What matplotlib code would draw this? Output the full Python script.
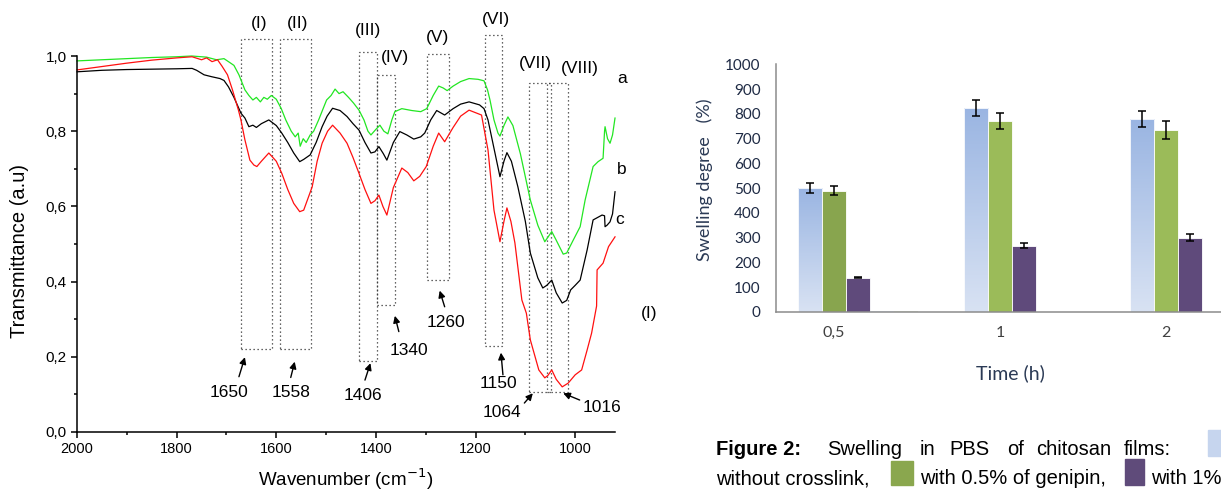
# Figura: espectros FTIR (izquierda) + hinchamiento en PBS (derecha)
import numpy as np
import matplotlib.pyplot as plt
from matplotlib.patches import Rectangle
from matplotlib.colors import LinearSegmentedColormap

# PASO 01. DATOS FTIR
wn_a = [2000, 1950, 1900, 1850, 1800, 1770, 1740, 1720, 1705, 1696, 1685, 1675, 1663, 1655,
        1647, 1640, 1632, 1625, 1618, 1610, 1600, 1590, 1581, 1570, 1562, 1556, 1552, 1546,
        1540, 1532, 1525, 1515, 1506, 1499, 1490, 1482, 1474, 1466, 1455, 1445, 1434, 1424,
        1416, 1410, 1400, 1392, 1384, 1376, 1368, 1362, 1348, 1328, 1310, 1298, 1285, 1274,
        1265, 1257, 1245, 1230, 1213, 1195, 1183, 1176, 1171, 1163, 1155, 1151, 1143, 1135,
        1125, 1110, 1090, 1075, 1061, 1047, 1038, 1024, 1017, 1004, 990, 980, 964, 954, 944,
        941, 940, 935, 930, 925, 920]
t_a = [0.987, 0.990, 0.993, 0.996, 0.998, 1.000, 0.997, 0.990, 0.993, 0.985, 0.975, 0.950,
       0.910, 0.895, 0.883, 0.890, 0.878, 0.890, 0.885, 0.895, 0.885, 0.860, 0.830, 0.800,
       0.785, 0.795, 0.760, 0.780, 0.770, 0.790, 0.800, 0.830, 0.860, 0.883, 0.895, 0.912,
       0.900, 0.905, 0.890, 0.875, 0.856, 0.830, 0.800, 0.790, 0.805, 0.816, 0.800, 0.793,
       0.830, 0.852, 0.860, 0.855, 0.852, 0.860, 0.895, 0.920, 0.915, 0.908, 0.920, 0.932,
       0.940, 0.938, 0.934, 0.910, 0.883, 0.830, 0.795, 0.787, 0.815, 0.838, 0.815, 0.740,
       0.617, 0.550, 0.506, 0.533, 0.510, 0.473, 0.476, 0.510, 0.546, 0.617, 0.706, 0.719,
       0.728, 0.800, 0.812, 0.780, 0.768, 0.790, 0.835]

wn_b = [2000, 1950, 1900, 1850, 1800, 1769, 1760, 1745, 1730, 1713, 1705, 1696, 1685, 1671,
        1663, 1655, 1647, 1640, 1630, 1615, 1600, 1589, 1577, 1565, 1553, 1545, 1532, 1520,
        1508, 1498, 1487, 1472, 1458, 1446, 1434, 1422, 1410, 1402, 1394, 1385, 1378, 1365,
        1352, 1338, 1324, 1310, 1302, 1290, 1278, 1262, 1245, 1230, 1213, 1192, 1183, 1175,
        1161, 1151, 1143, 1137, 1128, 1115, 1100, 1090, 1075, 1065, 1057, 1047, 1038, 1026,
        1017, 1009, 1000, 990, 976, 964, 946, 941, 940, 936, 930, 925, 920]
t_b = [0.958, 0.962, 0.964, 0.965, 0.966, 0.967, 0.962, 0.950, 0.945, 0.940, 0.935, 0.918,
       0.890, 0.848, 0.835, 0.812, 0.816, 0.810, 0.820, 0.830, 0.815, 0.795, 0.770, 0.742,
       0.719, 0.725, 0.737, 0.770, 0.812, 0.840, 0.861, 0.855, 0.839, 0.820, 0.803, 0.770,
       0.742, 0.745, 0.759, 0.740, 0.723, 0.770, 0.799, 0.790, 0.779, 0.785, 0.795, 0.830,
       0.855, 0.843, 0.860, 0.872, 0.878, 0.870, 0.860, 0.830, 0.742, 0.679, 0.720, 0.743,
       0.720, 0.652, 0.560, 0.476, 0.410, 0.383, 0.390, 0.404, 0.370, 0.343, 0.350, 0.378,
       0.390, 0.404, 0.484, 0.564, 0.577, 0.575, 0.546, 0.550, 0.559, 0.580, 0.639]

wn_c = [2000, 1950, 1900, 1850, 1800, 1769, 1750, 1740, 1729, 1718, 1709, 1698, 1688, 1676,
        1671, 1663, 1653, 1645, 1639, 1630, 1615, 1600, 1589, 1577, 1565, 1553, 1545, 1528,
        1518, 1508, 1497, 1487, 1472, 1458, 1446, 1434, 1422, 1410, 1402, 1394, 1386, 1378,
        1365, 1348, 1336, 1324, 1312, 1299, 1285, 1274, 1262, 1245, 1230, 1213, 1188, 1175,
        1163, 1151, 1143, 1137, 1129, 1121, 1107, 1098, 1090, 1073, 1061, 1055, 1047, 1038,
        1026, 1014, 1000, 987, 976, 967, 957, 956, 944, 933, 920]
t_c = [0.963, 0.972, 0.981, 0.989, 0.995, 0.998, 0.990, 0.995, 0.985, 0.990, 0.973, 0.950,
       0.910, 0.856, 0.830, 0.777, 0.723, 0.710, 0.706, 0.720, 0.742, 0.720, 0.688, 0.645,
       0.608, 0.586, 0.590, 0.652, 0.720, 0.768, 0.800, 0.816, 0.795, 0.768, 0.730, 0.688,
       0.645, 0.608, 0.615, 0.630, 0.600, 0.577, 0.650, 0.702, 0.690, 0.668, 0.680, 0.706,
       0.760, 0.795, 0.772, 0.810, 0.840, 0.856, 0.843, 0.750, 0.590, 0.506, 0.560, 0.596,
       0.560, 0.503, 0.351, 0.316, 0.245, 0.165, 0.144, 0.150, 0.165, 0.140, 0.120, 0.130,
       0.152, 0.165, 0.218, 0.263, 0.335, 0.431, 0.449, 0.493, 0.519]

# bandas (cajas punteadas): límites en número de onda y transmitancia
bandas = ['(I)', '(II)', '(III)', '(IV)', '(V)', '(VI)', '(VII)', '(VIII)']
banda_wn1 = [1670, 1593, 1433, 1397, 1298, 1181, 1093, 1057]
banda_wn2 = [1608, 1530, 1397, 1362, 1253, 1146, 1049, 1015]
banda_t1 = [0.221, 0.221, 0.189, 0.338, 0.404, 0.230, 0.106, 0.106]
banda_t2 = [1.044, 1.044, 1.010, 0.949, 1.005, 1.056, 0.929, 0.929]
etiq_wn = [1635, 1558, 1416, 1362, 1276, 1159, 1080, 991]
etiq_t = [1.087, 1.087, 1.069, 0.997, 1.049, 1.096, 0.980, 0.967]

# picos señalados con flechas
picos = ['1650', '1558', '1406', '1340', '1260', '1150', '1064', '1016']
pico_txt_wn = [1694, 1571, 1426, 1333, 1259, 1155, 1147, 946]
pico_txt_t = [0.104, 0.106, 0.096, 0.216, 0.291, 0.128, 0.051, 0.064]
flecha_ini_wn = [1675, 1571, 1422, 1354, 1262, 1145, 1102, 991]
flecha_ini_t = [0.147, 0.145, 0.138, 0.267, 0.333, 0.152, 0.077, 0.085]
flecha_fin_wn = [1663, 1563, 1411, 1362, 1272, 1149, 1085, 1024]
flecha_fin_t = [0.199, 0.187, 0.183, 0.309, 0.376, 0.211, 0.103, 0.103]

y_ticks = [0.0, 0.2, 0.4, 0.6, 0.8, 1.0]
y_ticklabels = ['0,0', '0,2', '0,4', '0,6', '0,8', '1,0']
x_ticks = [2000, 1800, 1600, 1400, 1200, 1000]

# PASO 02. DATOS DE HINCHAMIENTO
tiempos = ['0,5', '1', '2']
sin_reticulante = [502, 825, 779]
err_sin = [20, 32, 32]
genipina_05 = [490, 772, 735]
err_05 = [17, 32, 37]
genipina_1 = [139, 268, 300]
err_1 = [3, 10, 14]
resto_a = [5, 0, 0]
resto_b = [5, 0, 0]

# PASO 03. FIGURA
fig = plt.figure(figsize=(12.21, 4.9), dpi=100)
fuente = 'Liberation Sans'

ax = fig.add_axes([0.0631, 0.1184, 0.4406, 0.7673])
ax.plot(wn_a, t_a, color='#22e622', lw=0.9, clip_on=False)
ax.plot(wn_b, t_b, color='black', lw=0.9, clip_on=False)
ax.plot(wn_c, t_c, color='#ff1010', lw=0.9, clip_on=False)
ax.set_xlim(2000, 920)
ax.set_ylim(0, 1.0)
for s in ['top', 'right']:
    ax.spines[s].set_visible(False)
for s in ['left', 'bottom']:
    ax.spines[s].set_linewidth(1.1)
ax.set_xticks(x_ticks)
ax.set_xticklabels([str(v) for v in x_ticks], fontsize=10.5, family=fuente)
ax.set_xticks(np.arange(1900, 920, -200), minor=True)
ax.set_yticks(y_ticks)
ax.set_yticklabels(y_ticklabels, fontsize=11, family=fuente)
ax.set_yticks([0.1, 0.3, 0.5, 0.7, 0.9], minor=True)
ax.tick_params(which='major', direction='out', length=4, width=1.1)
ax.tick_params(which='minor', direction='out', length=2.5, width=1.1)
ax.set_xlabel('Wavenumber (cm$^{-1}$)', fontsize=13.5, family=fuente)
ax.xaxis.set_label_coords(0.5, -0.125)
ax.xaxis.label.set_va('center')
ax.set_ylabel('Transmittance (a.u)', fontsize=14.5, family=fuente)
ax.yaxis.set_label_coords(-0.107, 0.481)
ax.yaxis.label.set_va('center')

for i in range(len(bandas)):
    ax.add_patch(Rectangle((banda_wn1[i], banda_t1[i]), banda_wn2[i] - banda_wn1[i],
                           banda_t2[i] - banda_t1[i], fill=False, ls=(0, (1, 2.2)),
                           lw=0.9, ec='#333333', clip_on=False))
    ax.text(etiq_wn[i], etiq_t[i], bandas[i], ha='center', va='center',
            fontsize=12.5, family=fuente)

for i in range(len(picos)):
    ax.text(pico_txt_wn[i], pico_txt_t[i], picos[i], ha='center', va='center',
            fontsize=12.5, family=fuente)
    ax.annotate('', xy=(flecha_fin_wn[i], flecha_fin_t[i]),
                xytext=(flecha_ini_wn[i], flecha_ini_t[i]),
                arrowprops=dict(arrowstyle='-|>', color='black', lw=1.0,
                                mutation_scale=10, shrinkA=0, shrinkB=0))

ax.text(906, 0.939, 'a', fontsize=12.5, family=fuente, va='center', ha='center')
ax.text(906, 0.697, 'b', fontsize=12.5, family=fuente, va='center', ha='center')
ax.text(911, 0.564, 'c', fontsize=12.5, family=fuente, va='center', ha='center')
fig.text(0.532, 0.361, '(I)', fontsize=12.5, family=fuente, va='center', ha='center')

# PASO 04. GRÁFICO DE BARRAS
bx = fig.add_axes([0.6355, 0.3633, 0.401, 0.5055])
x = np.arange(len(tiempos))
w = 0.145
b1 = bx.bar(x - w, sin_reticulante, w, color='none', edgecolor='white', lw=0.6, zorder=2)
b2 = bx.bar(x, genipina_05, w, color=['#88a54e', '#9bbb59', '#9bbb59'],
            edgecolor='white', lw=0.6, zorder=2)
b3 = bx.bar(x + w, genipina_1, w, color='#5f4a7b', edgecolor='white', lw=0.6, zorder=2)
bx.bar(x + 2 * w, resto_a, w, color='#dfe6f4', zorder=2)
bx.bar(x + 3 * w, resto_b, w, color='#e4ebd6', zorder=2)

# degradado azul de las barras sin reticulante (oscuro arriba, claro abajo)
grad = np.linspace(0, 1, 100).reshape(-1, 1)
cmap_azul = LinearSegmentedColormap.from_list('azul', ['#d8e2f3', '#9ab5e2'])
for p in b1:
    x0, y0 = p.get_x(), p.get_y()
    im = bx.imshow(grad, extent=[x0, x0 + p.get_width(), y0, y0 + p.get_height()],
                   cmap=cmap_azul, aspect='auto', origin='lower', zorder=1.9)
    im.set_clip_path(p)

for barras, err in [(b1, err_sin), (b2, err_05), (b3, err_1)]:
    cx = [p.get_x() + p.get_width() / 2 for p in barras]
    cy = [p.get_height() for p in barras]
    bx.errorbar(cx, cy, yerr=err, fmt='none', ecolor='black', elinewidth=1.1,
                capsize=3.2, capthick=1.1, zorder=3)

bx.set_xlim(-0.349, 2.6)
bx.set_ylim(0, 1000)
bx.set_yticks(np.arange(0, 1001, 100))
bx.set_yticklabels([str(v) for v in range(0, 1001, 100)], fontsize=11, family='Lato',
                   color='#1e2a44')
bx.set_xticks(x)
bx.set_xticklabels(tiempos, fontsize=11.5, family='Lato', color='#404040')
bx.tick_params(axis='both', length=0)
bx.tick_params(axis='y', pad=11)
bx.tick_params(axis='x', pad=10)
for s in ['top', 'right']:
    bx.spines[s].set_visible(False)
bx.spines['left'].set_color('#8c8c8c')
bx.spines['bottom'].set_color('#8c8c8c')
bx.spines['left'].set_linewidth(1.1)
bx.spines['bottom'].set_linewidth(1.1)
bx.set_ylabel('Swelling degree   (%)', fontsize=13, family='Lato', color='#2b3a55')
bx.yaxis.set_label_coords(-0.145, 0.535)
bx.yaxis.label.set_va('center')
bx.set_xlabel('Time (h)', fontsize=14, family='Lato', color='#2b3a55')
bx.xaxis.set_label_coords(0.478, -0.247)
bx.xaxis.label.set_va('center')

# PASO 05. PIE DE FIGURA
W, H = 1221.0, 490.0
linea1 = 1 - 455 / H
linea2 = 1 - 484 / H
tam = 14.5
fig.text(716 / W, linea1, 'Figure 2:', fontsize=tam, family=fuente, weight='bold')
for pal, px in [('Swelling', 827), ('in', 920), ('PBS', 949), ('of', 1007),
                ('chitosan', 1036), ('films:', 1124)]:
    fig.text(px / W, linea1, pal, fontsize=tam, family=fuente)
fig.text(716 / W, linea2, 'without crosslink,', fontsize=tam, family=fuente)
fig.text(919.6 / W, linea2, 'with 0.5% of genipin,', fontsize=tam, family=fuente)
fig.text(1151 / W, linea2, 'with 1% of genipin.', fontsize=tam, family=fuente)
fig.patches.append(Rectangle((1208 / W, 1 - 456 / H), 30 / W, 26 / H, color='#c6d5ee',
                             transform=fig.transFigure, figure=fig))
fig.patches.append(Rectangle((891 / W, 1 - 485 / H), 22 / W, 24 / H, color='#8aa74e',
                             transform=fig.transFigure, figure=fig))
fig.patches.append(Rectangle((1125 / W, 1 - 485 / H), 19 / W, 26 / H, color='#5f4b7a',
                             transform=fig.transFigure, figure=fig))

fig.savefig('out.png', dpi=100)
